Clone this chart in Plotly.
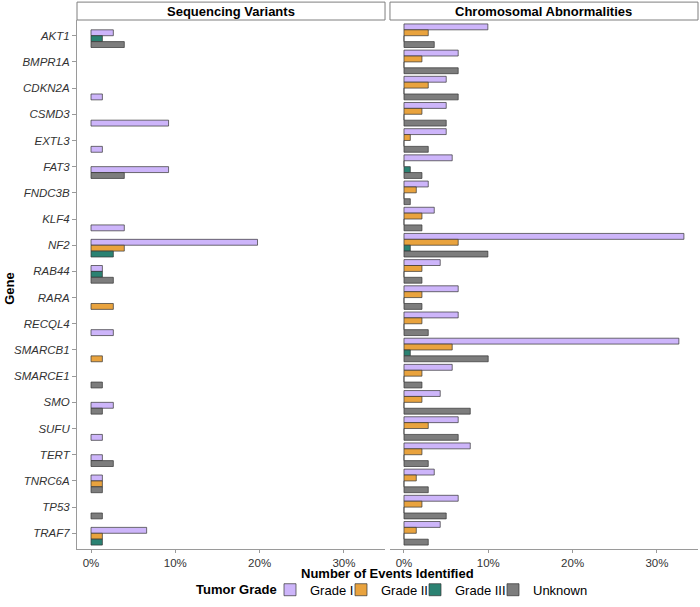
import plotly.graph_objects as go
from plotly.subplots import make_subplots

genes = ['AKT1', 'BMPR1A', 'CDKN2A', 'CSMD3', 'EXTL3', 'FAT3', 'FNDC3B',
         'KLF4', 'NF2', 'RAB44', 'RARA', 'RECQL4', 'SMARCB1', 'SMARCE1',
         'SMO', 'SUFU', 'TERT', 'TNRC6A', 'TP53', 'TRAF7']

grades = ['Grade I', 'Grade II', 'Grade III', 'Unknown']

# percent of events, None = no row for that gene / grade
seq_grade1 = [2.65, None, 1.35, 9.2, 1.35, 9.2, None, 3.95, 19.75, 1.35,
              None, 2.65, None, None, 2.65, 1.35, 1.35, 1.35, None, 6.6]
seq_grade2 = [None, None, None, None, None, None, None, None, 3.95, None,
              2.65, None, 1.35, None, None, None, None, 1.35, None, 1.35]
seq_grade3 = [1.35, None, None, None, None, None, None, None, 2.65, 1.35,
              None, None, None, None, None, None, None, None, None, 1.35]
seq_unknown = [3.95, None, None, None, None, 3.95, None, None, None, 2.65,
               None, None, None, 1.35, 1.35, None, 2.65, 1.35, 1.35, None]

chr_grade1 = [9.95, 6.43, 5.01, 5.01, 5.01, 5.72, 2.88, 3.59, 33.2, 4.3,
              6.43, 6.43, 32.6, 5.72, 4.3, 6.43, 7.86, 3.59, 6.43, 4.3]
chr_grade2 = [2.88, 2.13, 2.88, 2.13, 0.75, 0, 1.46, 2.13, 6.43, 2.13,
              2.13, 2.13, 5.72, 2.13, 2.13, 2.88, 2.13, 1.46, 2.13, 1.46]
chr_grade3 = [0, 0, 0, 0, 0, 0.75, 0, 0, 0.75, 0,
              0, 0, 0.75, 0, 0, 0, 0, 0, 0, 0]
chr_unknown = [3.59, 6.43, 6.43, 5.01, 2.88, 2.13, 0.75, 2.13, 9.95, 2.13,
               2.13, 2.88, 9.99, 2.13, 7.86, 6.43, 2.88, 2.88, 5.01, 2.88]

tick_vals = [0, 10, 20, 30]
tick_labels = ['0%', '10%', '20%', '30%']

colors = ['#CDB5FA', '#E9A33E', '#2B8272', '#7D7D7D']
FONT = 'Liberation Sans, Arial, sans-serif'
BAR_W = 0.9 / 4

# plot area in pixels (used to place strips / legend pieces)
L, R, T, B = 77, 2, 20, 55
PW, PH = 700 - L - R, 607 - T - B
# legend key centres (px) for each grade
key_px = [290, 361, 435, 513]
legend_names = ['legend', 'legend2', 'legend3', 'legend4']


def dodge(series):
    # ggplot-style dodge: present bars packed to the bottom of the gene slot
    offsets = [[None] * len(genes) for _ in series]
    for i in range(len(genes)):
        present = [g for g, s in enumerate(series) if s[i] is not None]
        start = len(series) - len(present)
        for k, g in enumerate(present):
            offsets[g][i] = -0.45 + (start + k) * BAR_W
    return offsets


fig = make_subplots(rows=1, cols=2, shared_yaxes=True,
                    horizontal_spacing=0.008)

panels = [[seq_grade1, seq_grade2, seq_grade3, seq_unknown],
          [chr_grade1, chr_grade2, chr_grade3, chr_unknown]]

for col, series in enumerate(panels, start=1):
    offs = dodge(series)
    for g, vals in enumerate(series):
        idx = [i for i, v in enumerate(vals) if v is not None]
        fig.add_trace(go.Bar(
            x=[vals[i] for i in idx],
            y=[genes[i] for i in idx],
            offset=[offs[g][i] for i in idx],
            width=BAR_W,
            orientation='h',
            name=grades[g],
            legend=legend_names[g],
            legendgroup=grades[g],
            showlegend=(col == 1),
            marker=dict(color=colors[g], line=dict(color='#333333', width=0.7)),
        ), row=1, col=col)

fig.update_xaxes(range=[-1.66, 34.87], tickvals=tick_vals,
                 ticktext=tick_labels, showgrid=False, zeroline=False,
                 showline=True, linecolor='#9a9a9a', linewidth=1,
                 ticks='outside', ticklen=3, tickcolor='#9a9a9a',
                 tickfont=dict(family=FONT, size=11.5, color='#333333'))

fig.update_yaxes(type='category', categoryorder='array', categoryarray=genes,
                 range=[19.6, -0.6], showgrid=False, zeroline=False,
                 automargin=False)
fig.update_yaxes(showline=True, linecolor='#9a9a9a', linewidth=1,
                 ticks='outside', ticklen=4, tickcolor='#9a9a9a',
                 tickfont=dict(family=FONT, size=11.5, color='#333333',
                               style='italic'),
                 row=1, col=1)
fig.update_yaxes(showline=False, showticklabels=False, ticks='', row=1, col=2)

strip_h = 18 / PH
shapes = []
annotations = []
for dom, label in [(fig.layout.xaxis.domain, 'Sequencing Variants'),
                   (fig.layout.xaxis2.domain, 'Chromosomal Abnormalities')]:
    shapes.append(dict(type='rect', xref='paper', yref='paper',
                       x0=dom[0], x1=dom[1], y0=1.0, y1=1 + strip_h,
                       line=dict(color='#7f7f7f', width=1), fillcolor='white'))
    annotations.append(dict(text='<b>%s</b>' % label, xref='paper',
                            yref='paper', x=(dom[0] + dom[1]) / 2,
                            y=1 + strip_h / 2, xanchor='center',
                            yanchor='middle', showarrow=False,
                            font=dict(family=FONT, size=13, color='black')))

annotations.append(dict(text='<b>Number of Events Identified</b>',
                        xref='paper', yref='paper', x=0.5, y=-0.046,
                        xanchor='center', yanchor='middle', showarrow=False,
                        font=dict(family=FONT, size=13, color='black')))
annotations.append(dict(text='<b>Gene</b>', xref='paper', yref='paper',
                        x=-0.109, y=0.4925, xanchor='center',
                        yanchor='middle', textangle=-90, showarrow=False,
                        font=dict(family=FONT, size=13, color='black')))
legend_y = -(593 - (607 - B)) / PH
annotations.append(dict(text='<b>Tumor Grade</b>', xref='paper',
                        yref='paper', x=(279 - L) / PW, y=legend_y,
                        xanchor='right', yanchor='middle', showarrow=False,
                        font=dict(family=FONT, size=13, color='black')))

legends = {}
for name, px in zip(legend_names, key_px):
    legends[name] = dict(orientation='h', x=(px - 20 - L) / PW, xanchor='left',
                         y=legend_y, yanchor='middle',
                         bgcolor='rgba(0,0,0,0)',
                         font=dict(family=FONT, size=13, color='black'))

fig.update_layout(
    width=700, height=607,
    margin=dict(l=L, r=R, t=T, b=B),
    plot_bgcolor='white', paper_bgcolor='white',
    barmode='overlay',
    shapes=shapes, annotations=annotations,
    font=dict(family=FONT, size=13, color='black'),
    **legends,
)

fig.write_html('out.html', config={'displayModeBar': False},
               post_script="document.body.style.margin='0px';")
